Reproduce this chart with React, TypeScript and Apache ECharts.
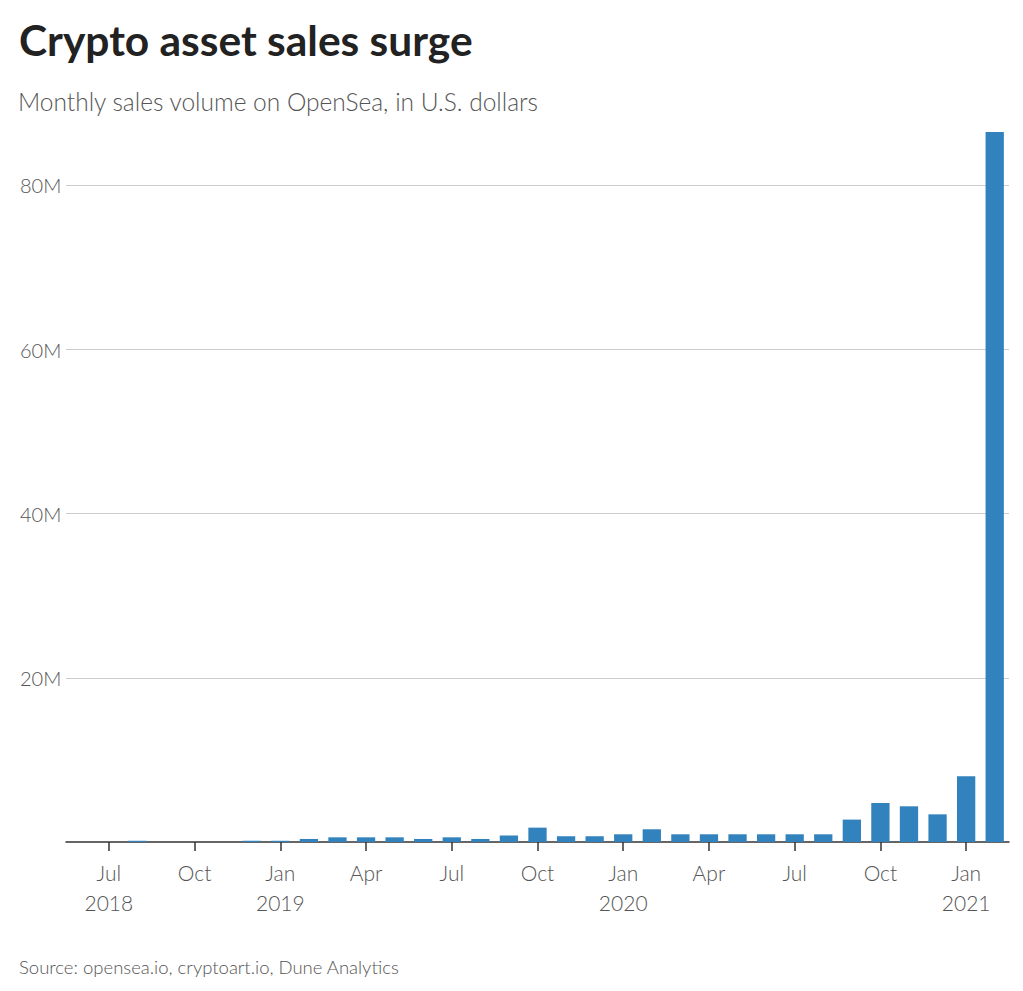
import React, { useEffect, useRef } from "react";
import * as echarts from "echarts";

const months = [
  "Jun 2018", "Jul 2018", "Aug 2018", "Sep 2018", "Oct 2018", "Nov 2018", "Dec 2018",
  "Jan 2019", "Feb 2019", "Mar 2019", "Apr 2019", "May 2019", "Jun 2019",
  "Jul 2019", "Aug 2019", "Sep 2019", "Oct 2019", "Nov 2019", "Dec 2019",
  "Jan 2020", "Feb 2020", "Mar 2020", "Apr 2020", "May 2020", "Jun 2020",
  "Jul 2020", "Aug 2020", "Sep 2020", "Oct 2020", "Nov 2020", "Dec 2020",
  "Jan 2021", "Feb 2021",
];

// Monthly sales volume in U.S. dollars
const salesVolume = [
  0, 0, 150000, 0, 0, 0, 150000,
  150000, 370000, 570000, 570000, 570000, 370000,
  570000, 370000, 800000, 1750000, 700000, 700000,
  940000, 1550000, 940000, 940000, 940000, 940000,
  940000, 940000, 2730000, 4750000, 4350000, 3370000,
  8000000, 86500000,
];

const gridValues = [20000000, 40000000, 60000000, 80000000];
const quarterLabels = ["Jul", "Oct", "Jan", "Apr"];
const yearLabelMonths = ["Jul 2018", "Jan 2019", "Jan 2020", "Jan 2021"];

const TITLE = "Crypto asset sales surge";
const SUBTITLE = "Monthly sales volume on OpenSea, in U.S. dollars";
const SOURCE = "Source: opensea.io, cryptoart.io, Dune Analytics";

const FONT = "Lato, 'Source Sans Pro', 'Open Sans', sans-serif";

export default function App() {
  const ref = useRef<HTMLDivElement>(null);

  useEffect(() => {
    document.body.style.margin = "0";
    if (!ref.current) return;
    const chart = echarts.init(ref.current, undefined, { renderer: "svg" });

    const isQuarter = (idx: number) => quarterLabels.includes(months[idx].split(" ")[0]);

    chart.setOption({
      animation: false,
      backgroundColor: "#ffffff",
      textStyle: { fontFamily: FONT },
      title: [
        {
          text: TITLE,
          left: 19,
          top: 18,
          padding: 0,
          textStyle: { fontFamily: FONT, fontWeight: "bold", fontSize: 42.5, color: "#222222" },
        },
        {
          text: SUBTITLE,
          left: 18,
          top: 89,
          padding: 0,
          textStyle: { fontFamily: FONT, fontWeight: 300, fontSize: 24.5, color: "#555555" },
        },
        {
          text: SOURCE,
          left: 19,
          top: 957,
          padding: 0,
          textStyle: { fontFamily: FONT, fontWeight: 300, fontSize: 18.5, color: "#555555" },
        },
      ],
      grid: { left: 66, right: 14, top: 132, bottom: 149 },
      xAxis: {
        type: "category",
        data: months,
        boundaryGap: true,
        axisLine: { show: true, lineStyle: { color: "#333333", width: 1.5 } },
        axisTick: {
          show: true,
          alignWithLabel: true,
          length: 9,
          interval: (idx: number) => isQuarter(idx),
          lineStyle: { color: "#333333", width: 1.5 },
        },
        axisLabel: {
          interval: (idx: number) => isQuarter(idx),
          margin: 15,
          fontSize: 21,
          fontWeight: 300,
          lineHeight: 30,
          color: "#555555",
          fontFamily: FONT,
          formatter: (v: string) => {
            const [m, y] = v.split(" ");
            return yearLabelMonths.includes(v) ? m + "\n" + y : m;
          },
        },
      },
      yAxis: {
        type: "value",
        min: 0,
        max: 86500000,
        interval: 20000000,
        splitLine: { show: false },
        axisLine: { show: false },
        axisTick: { show: false },
        axisLabel: {
          align: "left",
          margin: 46,
          fontSize: 20,
          fontWeight: 300,
          color: "#555555",
          fontFamily: FONT,
          formatter: (v: number) =>
            v > 0 && v % 20000000 === 0 ? v / 1000000 + "M" : "",
        },
      },
      series: [
        {
          type: "bar",
          data: salesVolume,
          barCategoryGap: "36%",
          itemStyle: { color: "#3182bd" },
          markLine: {
            silent: true,
            symbol: "none",
            label: { show: false },
            lineStyle: { color: "#cccccc", width: 1, type: "solid" },
            data: gridValues.map((v) => ({ yAxis: v })),
            z: 0,
          },
        },
      ],
    });

    return () => chart.dispose();
  }, []);

  return <div ref={ref} style={{ width: 1023, height: 991 }} />;
}
